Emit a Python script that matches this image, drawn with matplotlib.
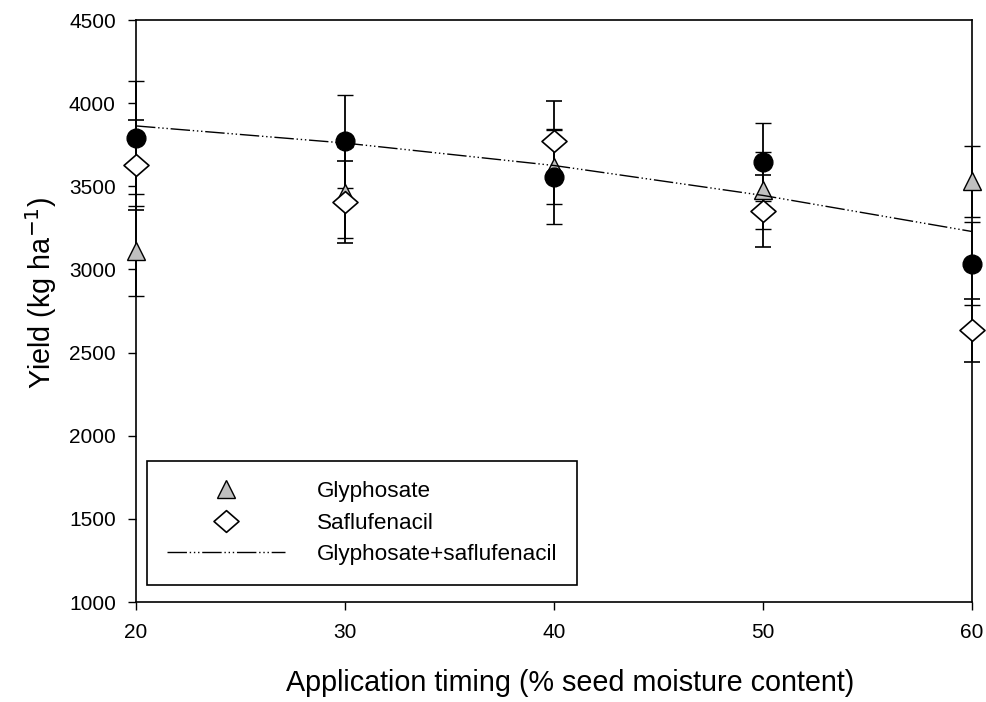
import matplotlib
matplotlib.use("Agg")
import matplotlib.pyplot as plt
from matplotlib.lines import Line2D
from matplotlib.path import Path

plt.rcParams['font.family'] = ['Liberation Sans', 'DejaVu Sans']

timing = [20, 30, 40, 50, 60]

gly_mean = [3110, 3462, 3618, 3475, 3530]
gly_err = [270, 272, 226, 233, 215]

saf_mean = [3629, 3404, 3775, 3350, 2633]
saf_err = [272, 248, 240, 218, 188]

mix_mean = [3793, 3770, 3555, 3648, 3035]
mix_err = [342, 280, 282, 235, 250]

fit_x = [20, 30, 40, 50, 60]
fit_y = [3863, 3760, 3625, 3445, 3228]

xticks = [20, 30, 40, 50, 60]
yticks = [1000, 1500, 2000, 2500, 3000, 3500, 4000, 4500]

fig = plt.figure(figsize=(9.87, 7.02), dpi=100)
ax = fig.add_axes([136/987, 1-602/702, (972-136)/987, (602-20)/702])

diamond = Path([(-1, 0), (0, 0.87), (1, 0), (0, -0.87), (-1, 0)],
               [Path.MOVETO, Path.LINETO, Path.LINETO, Path.LINETO, Path.CLOSEPOLY])

ekw = dict(ecolor='black', elinewidth=1.3, capsize=6, capthick=1.3, linestyle='none', zorder=3)

series = [
    (gly_mean, gly_err, dict(marker='^', ms=13, mfc='#c0c0c0', mec='black', mew=1.0)),
    (saf_mean, saf_err, dict(marker=diamond, ms=18, mfc='white', mec='black', mew=1.2)),
    (mix_mean, mix_err, dict(marker='o', ms=13.5, mfc='black', mec='black', mew=1.0)),
]
for mean, err, mk in series:
    cont = ax.errorbar(timing, mean, yerr=err, **mk, **ekw)
    for art in [cont[0], *cont[1], *cont[2]]:
        art.set_clip_on(False)

dash = (0, (14, 2, 1, 2, 1, 2, 1, 2))
ax.plot(fit_x, fit_y, color='black', lw=1.0, linestyle=dash, zorder=4)

ax.set_xlim(20, 60)
ax.set_ylim(1000, 4500)
ax.set_xticks(xticks)
ax.set_yticks(yticks)
ax.tick_params(direction='out', length=6, width=1, labelsize=15, top=False, right=False)
ax.tick_params(axis='y', pad=8.5)
ax.tick_params(axis='x', pad=9)
for s in ax.spines.values():
    s.set_linewidth(1.2)

ax.set_xlabel('Application timing (% seed moisture content)', fontsize=20.7)
ax.set_ylabel('Yield (kg ha$^{-1}$)', fontsize=20.7)
ax.xaxis.set_label_coords((570 - 136) / 836, -(683 - 602) / 582)
ax.yaxis.set_label_coords(-(136 - 41) / 836, (602 - 293) / 582)
ax.xaxis.label.set_va('center')
ax.yaxis.label.set_va('center')

handles = [
    Line2D([], [], marker='^', ms=13, mfc='#c0c0c0', mec='black', mew=1.0, linestyle='none'),
    Line2D([], [], marker=diamond, ms=18, mfc='white', mec='black', mew=1.2, linestyle='none'),
    Line2D([], [], color='black', lw=1.0, linestyle=dash),
]
labels = ['Glyphosate', 'Saflufenacil', 'Glyphosate+saflufenacil']
leg = ax.legend(handles, labels, loc='lower left', bbox_to_anchor=(0.0135, 0.029),
                fontsize=16.2, frameon=True, fancybox=False, edgecolor='black',
                handlelength=5.24, handletextpad=1.4, labelspacing=0.48,
                borderpad=0.88, borderaxespad=0, framealpha=1)
leg.get_frame().set_linewidth(1.2)

fig.savefig('out.png', dpi=100)
